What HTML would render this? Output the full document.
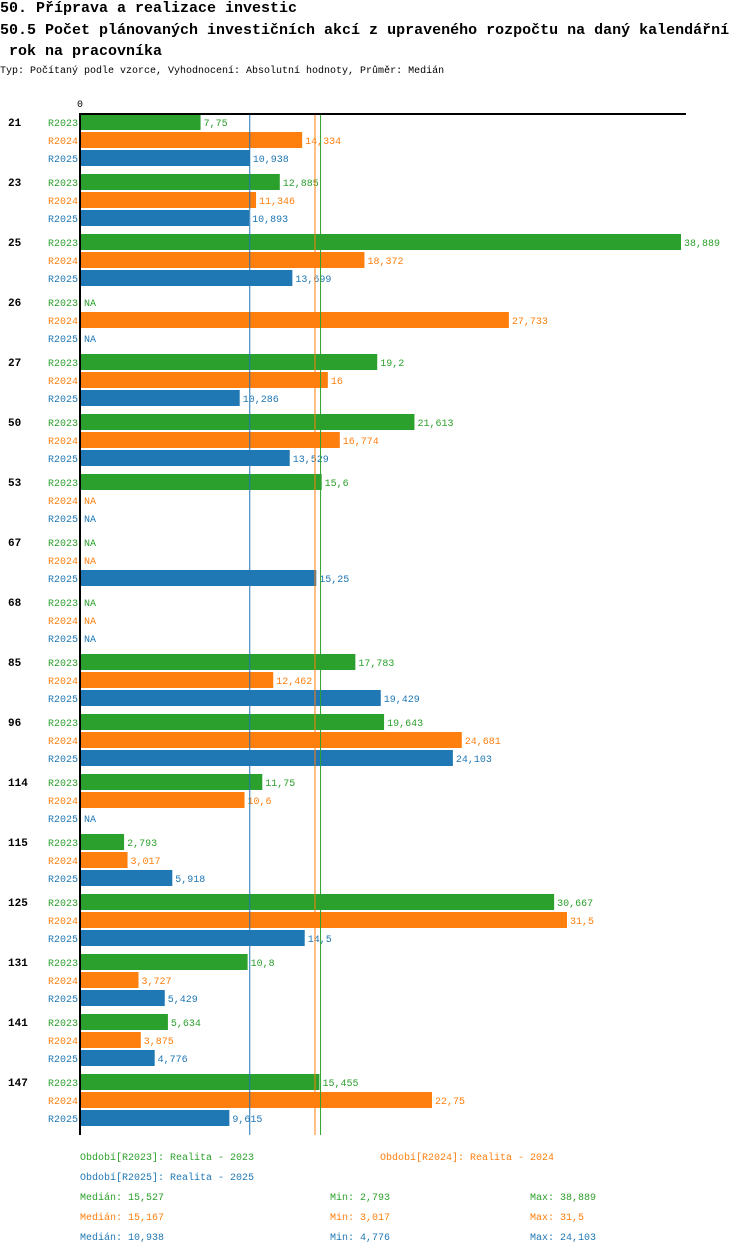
<!DOCTYPE html>
<html><head><meta charset="utf-8">
<style>
body{margin:0;background:#fff;width:750px;height:1254px;overflow:hidden;font-family:"Liberation Mono",monospace;}
.t{position:absolute;left:0;font-size:15px;font-weight:bold;white-space:pre;color:#000;}
</style></head><body>
<div class="t" style="top:0px">50. Příprava a realizace investic</div>
<div class="t" style="top:22px">50.5 Počet plánovaných investičních akcí z upraveného rozpočtu na daný kalendářní</div>
<div class="t" style="top:43px"> rok na pracovníka</div>
<div style="position:absolute;left:0;top:66px;font-size:10px;white-space:pre">Typ: Počítaný podle vzorce, Vyhodnocení: Absolutní hodnoty, Průměr: Medián</div>
<svg id="c" width="750" height="1254" style="position:absolute;left:0;top:0" font-family="Liberation Mono, monospace" font-size="10"></svg>
<script>
const categories=["21","23","25","26","27","50","53","67","68","85","96","114","115","125","131","141","147"];
const series=["R2023","R2024","R2025"];
const colors=["#2ca02c","#ff7f0e","#1f77b4"];
const v2023=[7.75,12.885,38.889,null,19.2,21.613,15.6,null,null,17.783,19.643,11.75,2.793,30.667,10.8,5.634,15.455];
const v2024=[14.334,11.346,18.372,27.733,16,16.774,null,null,null,12.462,24.681,10.6,3.017,31.5,3.727,3.875,22.75];
const v2025=[10.938,10.893,13.699,null,10.286,13.529,null,15.25,null,19.429,24.103,null,5.918,14.5,5.429,4.776,9.615];
const medians=[15.527,15.167,10.938];
const mins=["2,793","3,017","4,776"];
const maxs=["38,889","31,5","24,103"];
const medTxt=["15,527","15,167","10,938"];
const vals=[v2023,v2024,v2025];
const svg=document.getElementById('c');const NS="http://www.w3.org/2000/svg";
function mk(t,a,txt){const e=document.createElementNS(NS,t);for(const k in a)e.setAttribute(k,a[k]);if(txt!=null)e.textContent=txt;svg.appendChild(e);return e;}
const x0=81,xMax=38.889,xPix=681;
function xs(v){return x0+(v/xMax)*(xPix-x0);}
function ys(g,s){return 114+g*60+s*18;}
function fmt(v){return String(v).replace('.',',');}
categories.forEach((c,g)=>{
 let e=mk('text',{x:8,y:ys(g,0)+12,'font-weight':'bold','font-size':11},c);
 
 
 series.forEach((s,i)=>{
  const y=ys(g,i);
  let l=mk('text',{x:78,y:y+12,'text-anchor':'end',fill:colors[i]},s);
  
  
  const v=vals[i][g];
  if(v==null){let n=mk('text',{x:84,y:y+12,fill:colors[i]},'NA');
   
   return;}
  let b=mk('rect',{x:x0,y:y,width:xs(v)-x0,height:16,fill:colors[i]});
  
  
  let t=mk('text',{x:xs(v)+3,y:y+12,fill:colors[i]},fmt(v));
  
  
 });
});
const yEnd=1135;
medians.forEach((m,i)=>{let l=mk('line',{x1:xs(m),x2:xs(m),y1:114,y2:yEnd,stroke:colors[i],'stroke-width':1});
 
 });
let ax=mk('line',{x1:80,x2:686,y1:114,y2:114,stroke:'#000','stroke-width':2});


let ay=mk('line',{x1:80,x2:80,y1:113,y2:yEnd,stroke:'#000','stroke-width':2});


let z=mk('text',{x:77,y:107},'0');


const legTxt=["Období[R2023]: Realita - 2023","Období[R2024]: Realita - 2024","Období[R2025]: Realita - 2025"];
const legPos=[[80,1160],[380,1160],[80,1180]];
legTxt.forEach((t,i)=>{let e=mk('text',{x:legPos[i][0],y:legPos[i][1],fill:colors[i]},t);
 
 });
for(let i=0;i<3;i++){const y=1200+i*20;
 let a=mk('text',{x:80,y:y,fill:colors[i]},'Medián: '+medTxt[i]);
 
 let b=mk('text',{x:330,y:y,fill:colors[i]},'Min: '+mins[i]);
 
 let d=mk('text',{x:530,y:y,fill:colors[i]},'Max: '+maxs[i]);
 }
</script>
</body></html>
